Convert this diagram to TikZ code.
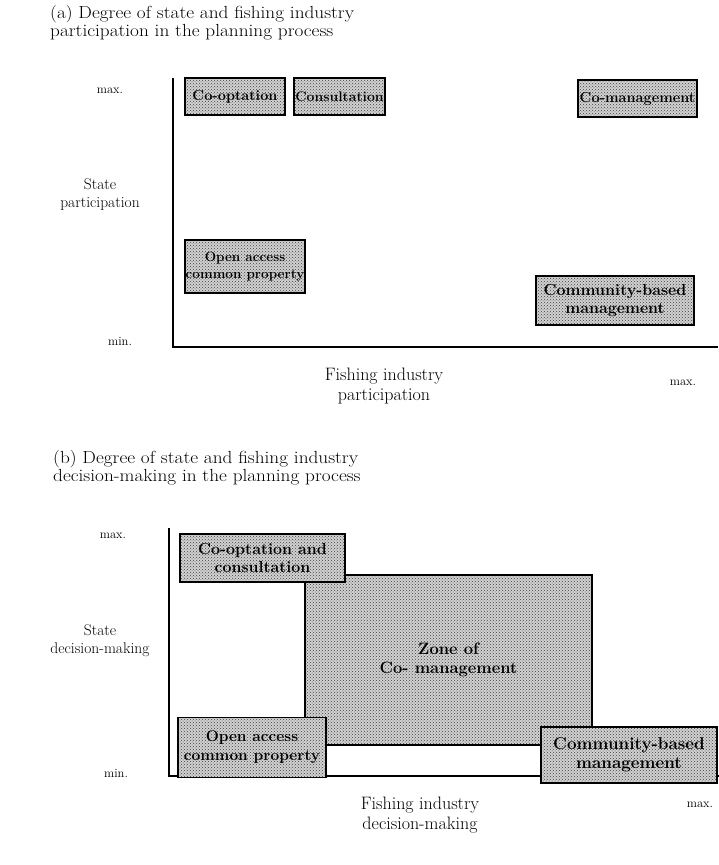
\documentclass[tikz,border=0pt]{standalone}
\usetikzlibrary{patterns}
\newcommand{\wideline}[1]{\scalebox{1.1}[1]{#1}}
\begin{document}
\begin{tikzpicture}[x=1pt,y=-1pt,
  stip/.style={draw=black, line width=1.5pt, preaction={fill=black!18}, pattern=crosshatch dots, pattern color=black!75,
    font=\fontsize{14.5}{16}\selectfont\bfseries, align=center, inner sep=0pt},
  lbl/.style={font=\fontsize{15.5}{18}\selectfont, align=center, inner sep=0pt},
  xlbl/.style={font=\fontsize{18}{19.5}\selectfont, align=center, inner sep=0pt},
  ttl/.style={font=\fontsize{17.5}{18}\selectfont, align=left, anchor=north west, inner sep=0pt},
  small/.style={font=\fontsize{12.5}{14}\selectfont, inner sep=0pt},
  axis/.style={line width=1.3pt}]
\useasboundingbox (0,0) rectangle (719,865);

% ---------- panel (a) ----------
\node[ttl] (ta) at (50,5) {\wideline{(a) Degree of state and fishing industry}\\\wideline{participation in the planning process}};
\coordinate (aTop) at (173,78);
\coordinate (aOrig) at (173,347);
\coordinate (aEnd) at (718,347);
\draw[axis] (aTop) -- (aOrig) -- (aEnd);

\node[small] (amax) at (110,91) {max.};
\node[small] (amin) at (120,341) {min.};
\node[lbl] (aysl) at (100,195) {State\\participation};
\node[xlbl] (axl) at (384,386) {Fishing industry\\participation};
\node[small] (axmax) at (683,383) {max.};

\node[stip, minimum width=100, minimum height=37] (coopt) at (235,96.5) {Co-optation};
\node[stip, minimum width=91, minimum height=37, font=\fontsize{14}{16}\selectfont\bfseries] (consult) at (339.5,96.5) {Consultation};
\node[stip, minimum width=119, minimum height=37] (comg) at (637.5,98.5) {Co-management};
\node[stip, minimum width=120, minimum height=53, font=\fontsize{13.5}{16.5}\selectfont\bfseries] (opena) at (245,266.5) {Open access\\common property};
\node[stip, minimum width=158, minimum height=49, font=\fontsize{16}{17.5}\selectfont\bfseries] (cbma) at (615,300.5) {Community-based\\management};

% ---------- panel (b) ----------
\node[ttl] (tb) at (53,450) {\wideline{(b) Degree of state and fishing industry}\\\wideline{decision-making in the planning process}};
\coordinate (bTop) at (169,528);
\coordinate (bOrig) at (169,776);
\coordinate (bEnd) at (719,776);
\draw[axis] (bTop) -- (bOrig) -- (bEnd);

\node[small] (bmax) at (113,536) {max.};
\node[small] (bmin) at (116,773) {min.};
\node[lbl] (bysl) at (100,641) {State\\decision-making};
\node[xlbl] (bxl) at (420,815) {Fishing industry\\decision-making};
\node[small] (bxmax) at (700,805) {max.};

\node[stip, minimum width=287, minimum height=170, font=\fontsize{16.5}{19}\selectfont\bfseries] (zone) at (448.5,660) {Zone of\\Co- management};
\node[stip, minimum width=165, minimum height=48, font=\fontsize{16}{18}\selectfont\bfseries] (coopc) at (262.5,558) {Co-optation and\\consultation};
\node[stip, minimum width=148, minimum height=60, font=\fontsize{15.5}{19}\selectfont\bfseries] (openb) at (252,747.5) {Open access\\common property};
\node[stip, minimum width=176, minimum height=56, font=\fontsize{17}{19}\selectfont\bfseries] (cbmb) at (629,755) {Community-based\\management};
\end{tikzpicture}
\end{document}
